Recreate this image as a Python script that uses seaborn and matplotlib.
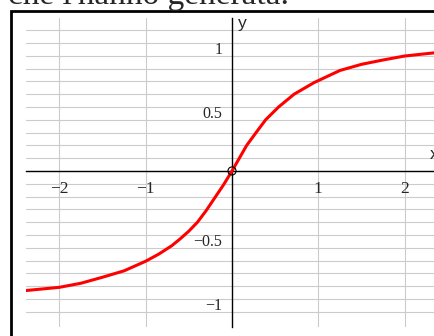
import numpy as np
import pandas as pd
import matplotlib
matplotlib.use("Agg")
import matplotlib.pyplot as plt
import matplotlib.patches as mpatches
import matplotlib.transforms as mtransforms
from matplotlib.ticker import MultipleLocator
import seaborn as sns

###############################################################
# values
curve_x = [-2.40, -2.00, -1.75, -1.50, -1.25, -1.00, -0.85, -0.70, -0.60, -0.50, -0.40,
           -0.30, -0.20, -0.10, 0.00, 0.085, 0.17, 0.29, 0.39, 0.54, 0.72, 0.95, 1.25,
           1.50, 1.75, 2.00, 2.36]
curve_y = [-0.935, -0.909, -0.877, -0.830, -0.780, -0.705, -0.650, -0.585, -0.530, -0.470,
           -0.400, -0.310, -0.210, -0.110, 0.000, 0.100, 0.200, 0.310, 0.400, 0.500, 0.600,
           0.690, 0.785, 0.833, 0.867, 0.898, 0.924]

x_ticks = [-2, -1, 1, 2]
x_tick_labels = ["\u22122", "\u22121", "1", "2"]
y_ticks = [-1, -0.5, 0.5, 1]
y_tick_labels = ["\u22121", "\u22120.5", "0.5", "1"]
origin = [0.0]

caption = "che l'hanno generata."

df = pd.DataFrame({"x": curve_x, "y": curve_y})

###############################################################
sns.set_style("white")
plt.rcParams["font.family"] = ["Liberation Serif", "DejaVu Serif"]

W, H = 435, 336
fig = plt.figure(figsize=(W / 100, H / 100), dpi=100)

# axes box in pixels: left 26, right 435, top 18, bottom 327
ax = fig.add_axes([26 / W, (H - 327) / H, 409 / W, 309 / H])
ax.set_xlim(-2.387, 2.352)
ax.set_ylim(-1.219, 1.195)

# grid
for gy in np.arange(-1.1, 1.15, 0.1):
    ax.axhline(gy, color="#cbcbcb", lw=0.8, zorder=0)
for gx in x_ticks:
    ax.axvline(gx, color="#cbcbcb", lw=0.8, zorder=0)

# axes through origin
for s in ["top", "right"]:
    ax.spines[s].set_visible(False)
ax.spines["left"].set_position(("data", 0))
ax.spines["bottom"].set_position(("data", 0))
for s in ["left", "bottom"]:
    ax.spines[s].set_color("black")
    ax.spines[s].set_linewidth(1.0)

ax.set_xticks(x_ticks)
ax.set_xticklabels(x_tick_labels)
ax.set_yticks(y_ticks)
ax.set_yticklabels(y_tick_labels)
ax.yaxis.set_minor_locator(MultipleLocator(0.1))
ax.tick_params(axis="both", which="major", direction="inout", length=6, width=1,
               color="black", pad=4)
ax.tick_params(axis="x", which="major", labelsize=12.5)
ax.tick_params(axis="y", which="major", labelsize=11.5, pad=4)
ax.tick_params(axis="y", which="minor", direction="inout", length=4, width=1, color="black")

offset = mtransforms.ScaledTranslation(0, -3.5 / 72, fig.dpi_scale_trans)
for lab in ax.get_yticklabels():
    lab.set_transform(lab.get_transform() + offset)

# the curve
sns.lineplot(data=df, x="x", y="y", color="#ff0000", linewidth=2.2, ax=ax, zorder=3)
ax.scatter(origin, origin, s=34, facecolors="none", edgecolors="black", linewidths=0.8, zorder=4)
ax.set_xlabel("")
ax.set_ylabel("")

ax.text(0.07, 1.15, "y", family=["Liberation Sans", "DejaVu Sans"], fontsize=12.5,
        ha="left", va="center")
ax.text(2.29, 0.13, "x", family=["Liberation Sans", "DejaVu Sans"], fontsize=12.5,
        ha="left", va="center", clip_on=False)

# outer frame and cut caption
fig.patches.append(mpatches.Rectangle((11 / W, -0.1), 1.2, (H - 11) / H + 0.1,
                                      transform=fig.transFigure, fill=False,
                                      edgecolor="black", linewidth=2))
fig.text(8 / W, (H - 4) / H, caption, fontsize=24, ha="left", va="baseline")

fig.savefig("out.png", dpi=100)
